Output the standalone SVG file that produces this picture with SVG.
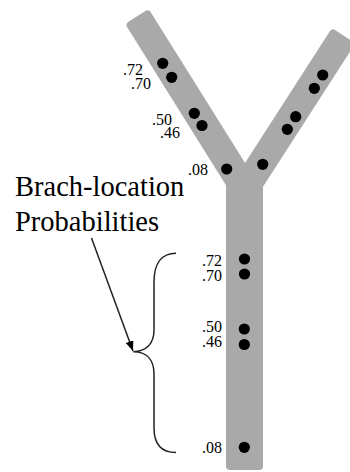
<svg xmlns="http://www.w3.org/2000/svg" width="350" height="472" viewBox="0 0 350 472">
<style>
.tree{fill:#a9a9a9;stroke:#a9a9a9;stroke-width:8;stroke-linejoin:round}
.dot{fill:#000}
.lbl{font-family:"Liberation Serif","Times New Roman",serif;font-size:16px;fill:#000;text-anchor:end}
.big{font-family:"Liberation Serif","Times New Roman",serif;font-size:28.5px;fill:#000}
.line{fill:none;stroke:#222;stroke-width:1.5}
</style>
<defs>
<marker id="ah" viewBox="0 0 10 8" refX="10" refY="4" markerWidth="10" markerHeight="8" markerUnits="userSpaceOnUse" orient="auto">
<path d="M0,0 L10,4 L0,8 Z" fill="#000"/>
</marker>
</defs>
<g id="tree">
<path class="tree" d="M130.6,25.1 L147.5,14.5 L245,170.4 L333.2,33.5 L350,44.4 L259,185.6 L259,466 L230,466 L230,184.1 Z"/>
</g>
<g id="left-branch">
<circle class="dot" cx="162.7" cy="63.3" r="5.6"/>
<circle class="dot" cx="171.7" cy="77.3" r="5.6"/>
<circle class="dot" cx="194.3" cy="113.3" r="5.6"/>
<circle class="dot" cx="202" cy="125.5" r="5.6"/>
<circle class="dot" cx="226.7" cy="169" r="5.6"/>
<text class="lbl" x="143" y="75">.72</text>
<text class="lbl" x="151" y="89">.70</text>
<text class="lbl" x="172" y="125">.50</text>
<text class="lbl" x="180" y="138">.46</text>
<text class="lbl" x="208" y="175">.08</text>
</g>
<g id="right-branch">
<circle class="dot" cx="322.7" cy="75" r="5.6"/>
<circle class="dot" cx="314.3" cy="88.3" r="5.6"/>
<circle class="dot" cx="295.7" cy="116.7" r="5.6"/>
<circle class="dot" cx="287.3" cy="129.3" r="5.6"/>
<circle class="dot" cx="262.7" cy="164.3" r="5.6"/>
</g>
<g id="trunk">
<circle class="dot" cx="244.5" cy="259" r="5.6"/>
<circle class="dot" cx="244.5" cy="274" r="5.6"/>
<circle class="dot" cx="244.3" cy="329" r="5.6"/>
<circle class="dot" cx="244.3" cy="344.5" r="5.6"/>
<circle class="dot" cx="244.3" cy="447.3" r="5.6"/>
<text class="lbl" x="222" y="266">.72</text>
<text class="lbl" x="222" y="281">.70</text>
<text class="lbl" x="222" y="332">.50</text>
<text class="lbl" x="222" y="346.5">.46</text>
<text class="lbl" x="222" y="453">.08</text>
</g>
<g id="label">
<text class="big" x="15" y="196">Brach-location</text>
<text class="big" x="15" y="231">Probabilities</text>
</g>
<g id="connectors">
<path class="line" d="M176,253.3 C162,253.3 154,263 154,282 L154,330 C154,344 146,351.7 133.3,351.7 C146,351.7 154,359 154,374 L154,428 C154,444 161,452.5 176,452.5"/>
<line class="line" x1="91.5" y1="238" x2="133" y2="351" marker-end="url(#ah)"/>
</g>
</svg>
